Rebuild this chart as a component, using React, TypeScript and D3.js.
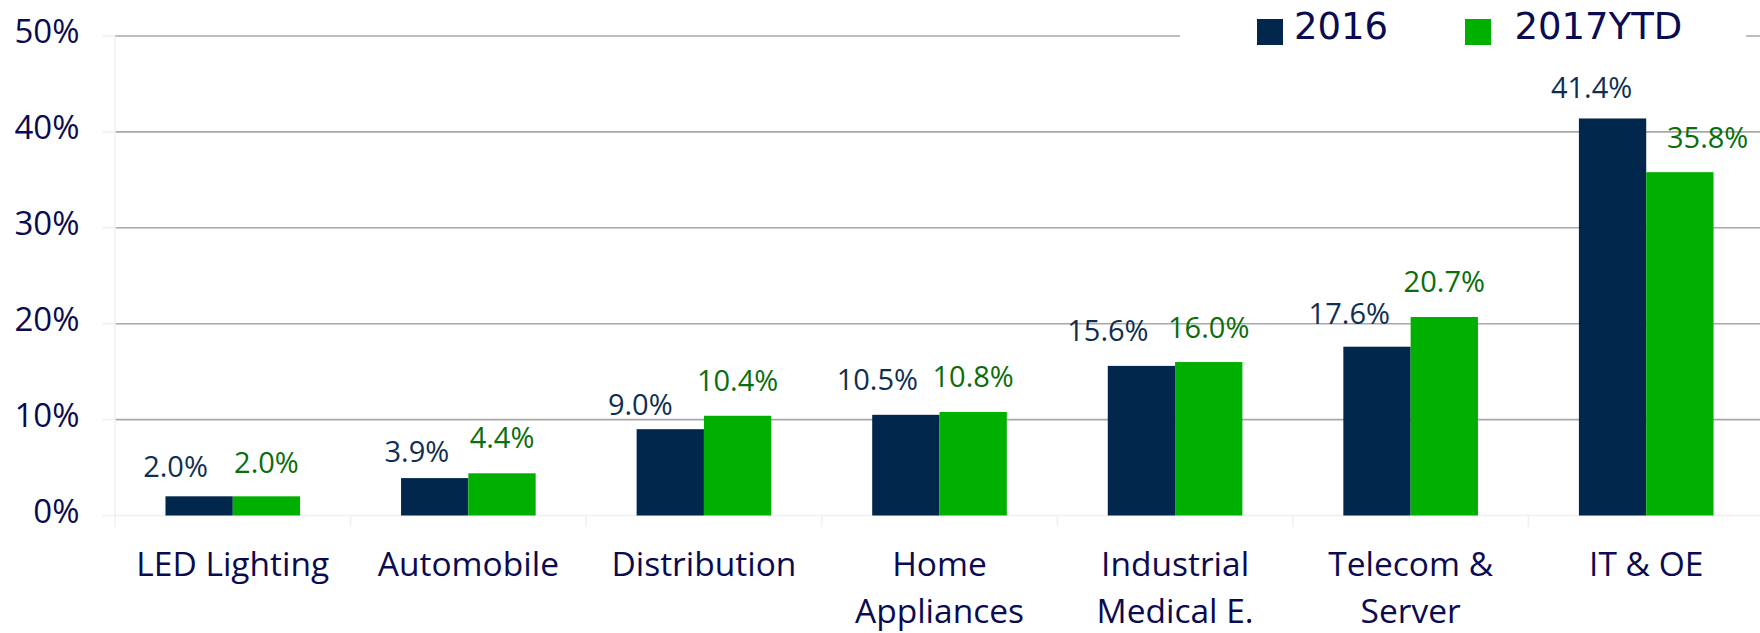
import React, { useEffect } from "react";
import * as d3 from "d3";

const categories: string[][] = [
  ["LED Lighting"],
  ["Automobile"],
  ["Distribution"],
  ["Home", "Appliances"],
  ["Industrial", "Medical E."],
  ["Telecom &", "Server"],
  ["IT & OE"],
];
const seriesNames = ["2016", "2017YTD"];
const values2016 = [2.0, 3.9, 9.0, 10.5, 15.6, 17.6, 41.4];
const values2017 = [2.0, 4.4, 10.4, 10.8, 16.0, 20.7, 35.8];
const yTicks = [0, 10, 20, 30, 40, 50];

// label layout nudges (dx from bar centre, gap above bar top)
const nudge2016 = [
  [-23.6, 19.7],
  [-17.8, 16.4],
  [-30, 14.5],
  [-28.5, 24.8],
  [-33.5, 24.5],
  [-27.7, 22.4],
  [-21, 20],
];
const nudge2017 = [
  [0, 23],
  [0, 25],
  [0, 24.8],
  [0, 24.6],
  [0, 24],
  [0, 24.5],
  [27.8, 24],
];

const W = 1760;
const H = 633;
const COL_DARK = "#01274d";
const COL_GREEN = "#00b000";
const LBL_DARK = "#0f2f52";
const LBL_GREEN = "#0a6e0a";
const AXIS_TXT = "#0b0b52";
const AX_FONT = "'Open Sans', 'Noto Sans', sans-serif";
const LEG_FONT = "'DejaVu Sans', Verdana, sans-serif";

export default function App() {
  useEffect(() => {
    document.body.style.margin = "0";
  }, []);

  const x0 = d3
    .scaleBand<number>()
    .domain(d3.range(categories.length))
    .range([115, 1764])
    .paddingInner(0)
    .paddingOuter(0);
  const step = x0.bandwidth();
  const groupW = step * 0.5714;
  const x1 = d3
    .scaleBand<string>()
    .domain(seriesNames)
    .range([(step - groupW) / 2, (step + groupW) / 2])
    .padding(0);
  const y = d3.scaleLinear().domain([0, 50]).range([515.5, 36]);
  const bw = x1.bandwidth();

  const series = [
    { name: seriesNames[0], vals: values2016, color: COL_DARK, lbl: LBL_DARK, nudge: nudge2016 },
    { name: seriesNames[1], vals: values2017, color: COL_GREEN, lbl: LBL_GREEN, nudge: nudge2017 },
  ];

  const plotLeft = 115;
  const plotRight = 1764;

  return (
    <svg
      width={W}
      height={H}
      viewBox={`0 0 ${W} ${H}`}
      style={{ display: "block", position: "absolute", left: 0, top: 0, background: "#fff" }}
    >
      <rect x={0} y={0} width={W} height={H} fill="#fff" />
      {/* gridlines */}
      {yTicks.filter((t) => t > 0).map((t) => (
        <line
          key={"g" + t}
          x1={plotLeft}
          x2={plotRight}
          y1={y(t)}
          y2={y(t)}
          stroke="#a8a8a8"
          strokeWidth={1.6}
        />
      ))}
      {/* y ticks */}
      {yTicks.map((t) => (
        <line
          key={"yt" + t}
          x1={102.5}
          x2={plotLeft}
          y1={y(t)}
          y2={y(t)}
          stroke="#f0f0f0"
          strokeWidth={1.5}
        />
      ))}
      {/* y axis line */}
      <line x1={plotLeft} x2={plotLeft} y1={y(50)} y2={527} stroke="#f0f0f0" strokeWidth={1.5} />
      {/* x axis line */}
      <line x1={plotLeft} x2={plotRight} y1={y(0)} y2={y(0)} stroke="#f0f0f0" strokeWidth={1.5} />
      {/* category ticks */}
      {d3.range(1, categories.length + 1).map((i) => (
        <line
          key={"ct" + i}
          x1={plotLeft + i * step}
          x2={plotLeft + i * step}
          y1={y(0)}
          y2={527}
          stroke="#f0f0f0"
          strokeWidth={1.5}
        />
      ))}
      {/* y tick labels */}
      {yTicks.map((t) => (
        <text
          key={"yl" + t}
          x={79.5}
          y={y(t) + 7.4}
          textAnchor="end"
          fontFamily={AX_FONT}
          fontSize={33}
          fill={AXIS_TXT}
        >
          {t}%
        </text>
      ))}
      {/* bars */}
      {series.map((s) =>
        s.vals.map((v, i) => (
          <rect
            key={s.name + i}
            x={(x0(i) as number) + (x1(s.name) as number)}
            y={y(v)}
            width={bw}
            height={y(0) - y(v)}
            fill={s.color}
          />
        ))
      )}
      {/* data labels */}
      {series.map((s) =>
        s.vals.map((v, i) => (
          <text
            key={"dl" + s.name + i}
            x={(x0(i) as number) + (x1(s.name) as number) + bw / 2 + s.nudge[i][0]}
            y={y(v) - s.nudge[i][1]}
            textAnchor="middle"
            fontFamily={AX_FONT}
            fontSize={29}
            fill={s.lbl}
          >
            {v.toFixed(1)}%
          </text>
        ))
      )}
      {/* category labels */}
      {categories.map((lines, i) => (
        <text
          key={"cl" + i}
          textAnchor="middle"
          fontFamily={AX_FONT}
          fontSize={33.5}
          fill={AXIS_TXT}
        >
          {lines.map((ln, j) => (
            <tspan key={j} x={(x0(i) as number) + step / 2} y={575.7 + j * 47.6}>
              {ln}
            </tspan>
          ))}
        </text>
      ))}
      {/* legend */}
      <rect x={1180} y={0} width={566} height={60} fill="#fff" />
      <rect x={1257} y={19} width={26} height={26} fill={COL_DARK} />
      <text x={1294} y={39.3} fontFamily={LEG_FONT} fontSize={37} fill={AXIS_TXT}>
        {seriesNames[0]}
      </text>
      <rect x={1465} y={19} width={26} height={26} fill={COL_GREEN} />
      <text x={1514.5} y={39.3} fontFamily={LEG_FONT} fontSize={37} fill={AXIS_TXT}>
        {seriesNames[1]}
      </text>
    </svg>
  );
}
